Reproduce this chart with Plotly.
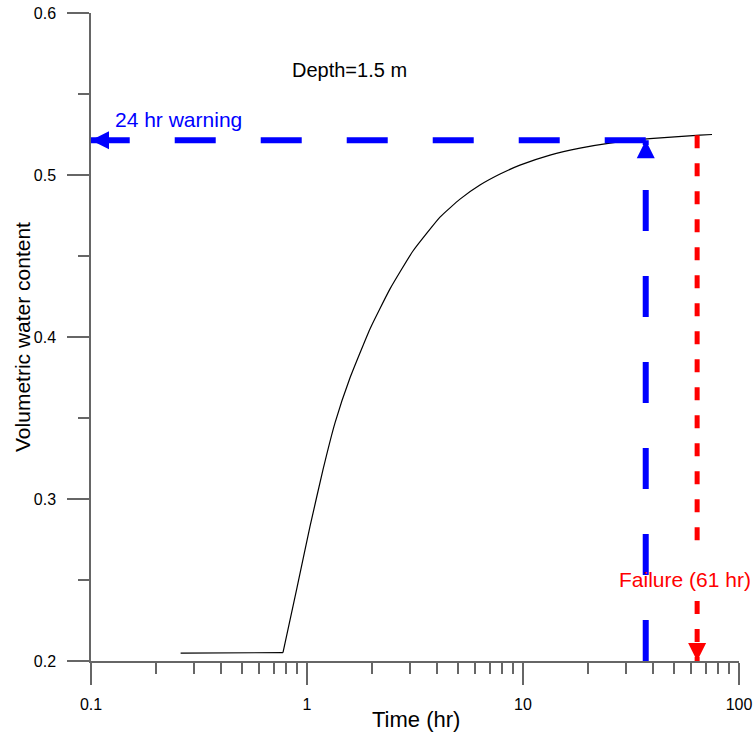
import plotly.graph_objects as go
import math

# ---- data ----
time_hr = [0.26, 0.5, 0.774, 0.899, 1.032, 1.186, 1.348, 1.582, 1.957, 2.423, 3.095,
           4.128, 5.11, 6.32, 7.83, 9.68, 13.34, 18.36, 25.27, 38.7, 65.97, 75]
vwc = [0.2048, 0.2050, 0.2052, 0.2453, 0.2829, 0.3181, 0.3470, 0.3748, 0.4050, 0.4297,
       0.4531, 0.4740, 0.4851, 0.4938, 0.5006, 0.5061, 0.5123, 0.5166, 0.5197, 0.5224,
       0.5246, 0.5250]

warning_time = 37.0        # time where warning threshold is reached
warning_vwc = 0.5215       # warning water content
failure_time = 64.0        # failure line position
failure_top = 0.5246
x_min, x_max = 0.1, 100
y_min, y_max = 0.2, 0.6
failure_gap = (0.268, 0.237)   # where the label interrupts the failure line

x_major = [0.1, 1, 10, 100]
x_major_text = ["0.1", "1", "10", "100"]
x_minor = [m * d for d in (0.1, 1, 10) for m in range(2, 10)]
y_major = [0.2, 0.3, 0.4, 0.5, 0.6]
y_major_text = ["0.2", "0.3", "0.4", "0.5", "0.6"]

FONT = "Arial, Liberation Sans, sans-serif"
BLUE = "#0000ff"
RED = "#ff0000"

fig = go.Figure()

# main curve: flat initial part, then smooth rise
fig.add_trace(go.Scatter(x=time_hr[:3], y=vwc[:3], mode="lines",
                         line=dict(color="black", width=1.2), showlegend=False))
fig.add_trace(go.Scatter(x=time_hr[2:], y=vwc[2:], mode="lines",
                         line=dict(color="black", width=1.2, shape="spline", smoothing=0.4),
                         showlegend=False))

# blue horizontal warning line (drawn from right to left)
fig.add_trace(go.Scatter(x=[warning_time, x_min], y=[warning_vwc, warning_vwc], mode="lines",
                         line=dict(color=BLUE, width=6, dash="41px,45px"), showlegend=False))
# blue vertical warning line (drawn from bottom up)
fig.add_trace(go.Scatter(x=[warning_time, warning_time], y=[y_min, warning_vwc], mode="lines",
                         line=dict(color=BLUE, width=6, dash="41px,45px"), showlegend=False))
# red failure line (top to bottom, interrupted by label)
fig.add_trace(go.Scatter(x=[failure_time, failure_time, None, failure_time, failure_time],
                         y=[failure_top, failure_gap[0], None, failure_gap[1], y_min],
                         mode="lines", connectgaps=False,
                         line=dict(color=RED, width=5, dash="13px,15px"), showlegend=False))
# arrow heads
fig.add_trace(go.Scatter(x=[x_min, warning_time, failure_time],
                         y=[warning_vwc, warning_vwc, y_min],
                         mode="markers",
                         marker=dict(symbol=["arrow-left", "arrow-up", "arrow-down"],
                                     size=18, color=[BLUE, BLUE, RED],
                                     line=dict(width=0)),
                         cliponaxis=False, showlegend=False))

fig.add_annotation(x=math.log10(1.58), y=0.5647, text="Depth=1.5 m", showarrow=False,
                   font=dict(family=FONT, size=20, color="black"))
fig.add_annotation(x=math.log10(0.127), y=0.5345, text="24 hr warning", showarrow=False,
                   xanchor="left", font=dict(family=FONT, size=21, color=BLUE))
fig.add_annotation(x=1.75, y=0.2502, text="Failure (61 hr)", showarrow=False,
                   font=dict(family=FONT, size=21, color=RED))
# axis titles
fig.add_annotation(xref="paper", yref="paper", x=0.5015, y=-0.0902, text="Time (hr)",
                   xanchor="center", yanchor="middle",
                   showarrow=False, font=dict(family=FONT, size=22, color="black"))
fig.add_annotation(xref="paper", yref="paper", x=-0.1065, y=0.5, text="Volumetric water content",
                   xanchor="center", yanchor="middle",
                   textangle=-90, showarrow=False, font=dict(family=FONT, size=21, color="black"))

axis_color = "#666666"
fig.update_xaxes(type="log", range=[math.log10(x_min), math.log10(x_max)], automargin=False,
                 showline=True, linecolor=axis_color, linewidth=1.5,
                 showgrid=False, zeroline=False,
                 tickmode="array", tickvals=x_major, ticktext=x_major_text,
                 ticks="outside", ticklen=22, tickwidth=1.5, tickcolor=axis_color,
                 ticklabelstandoff=6,
                 tickfont=dict(family=FONT, size=16, color="black"),
                 minor=dict(tickmode="array", tickvals=x_minor, ticks="outside",
                            ticklen=11, tickwidth=1.5, tickcolor=axis_color, showgrid=False))
fig.update_yaxes(range=[y_min, y_max], automargin=False,
                 showline=True, linecolor=axis_color, linewidth=1.5,
                 showgrid=False, zeroline=False,
                 tickmode="array", tickvals=y_major, ticktext=y_major_text,
                 ticks="outside", ticklen=22, tickwidth=1.5, tickcolor=axis_color,
                 ticklabelstandoff=8,
                 tickfont=dict(family=FONT, size=16, color="black"),
                 minor=dict(dtick=0.05, tick0=0.2, ticks="outside",
                            ticklen=11, tickwidth=1.5, tickcolor=axis_color, showgrid=False))

fig.update_layout(width=754, height=738, margin=dict(l=91, r=15, t=13, b=77),
                  paper_bgcolor="white", plot_bgcolor="white", showlegend=False)

fig.write_html("out.html")
